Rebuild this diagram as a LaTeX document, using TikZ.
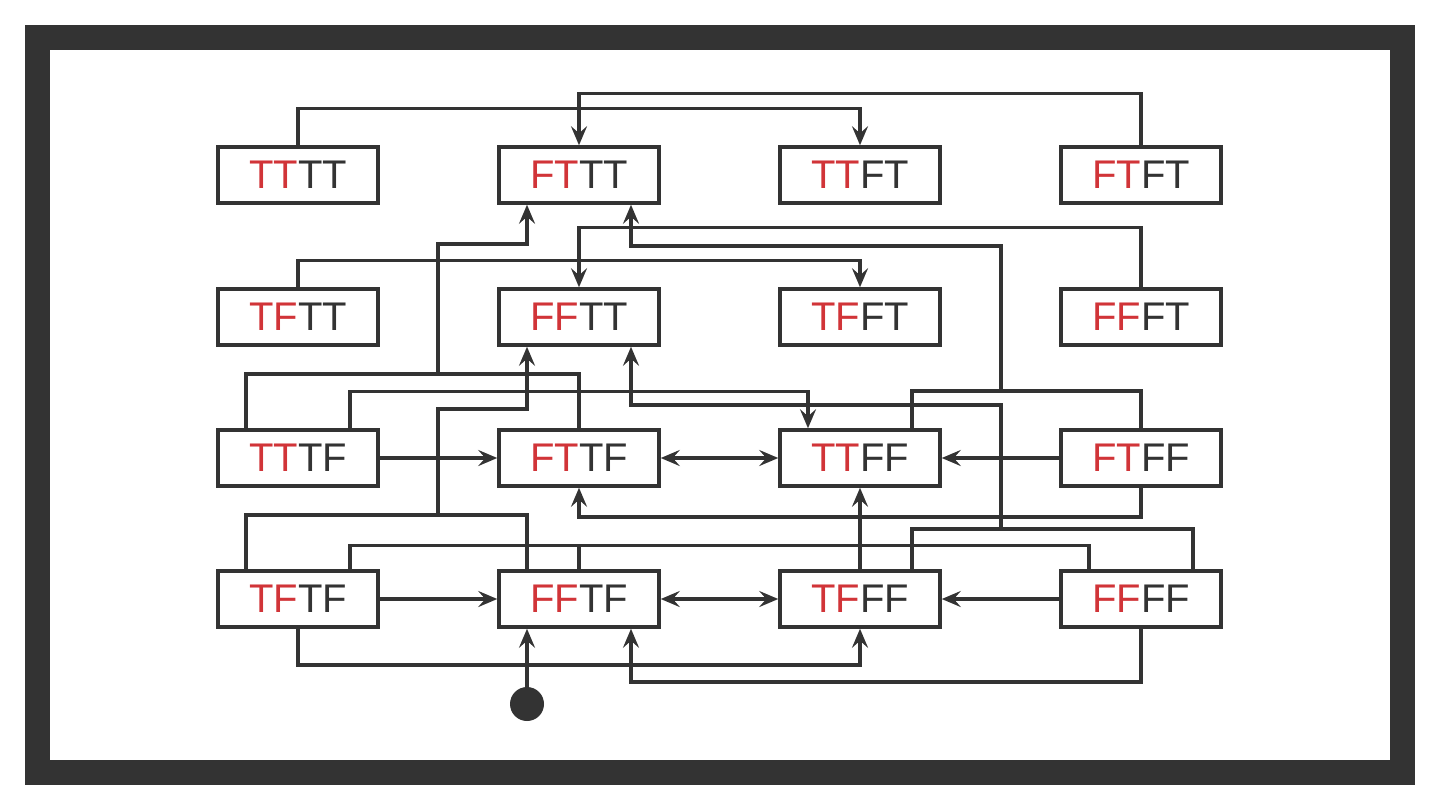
\documentclass[tikz,border=0pt]{standalone}
\usepackage{fontspec}
\setmainfont{Liberation Sans}
\usetikzlibrary{arrows.meta}
\definecolor{ink}{HTML}{333333}
\definecolor{hl}{HTML}{D13438}
\newcommand{\stlab}[2]{\textcolor{hl}{#1}\textcolor{ink}{#2}}
\begin{document}
\begin{tikzpicture}[x=0.5pt,y=-0.5pt,
  state/.style={draw=ink, line width=1.75pt, fill=white, minimum width=80pt, minimum height=28pt, inner sep=0pt, font=\fontsize{20}{24}\selectfont},
  wire/.style={draw=ink, line width=1.75pt},
  arr/.style={wire, -{Stealth[length=9.5pt,width=8pt,inset=3.5pt]}},
  barr/.style={wire, {Stealth[length=9.5pt,width=8pt,inset=3.5pt]}-{Stealth[length=9.5pt,width=8pt,inset=3.5pt]}},
  startdot/.style={circle, fill=ink, minimum size=17pt, inner sep=0pt}
]
\useasboundingbox (0,0) rectangle (1440,810);
\fill[ink] (25,25) rectangle (1415,785);
\fill[white] (50,50) rectangle (1390,760);

% nodes
\node[state] (TTTT) at (298,175) {\stlab{TT}{TT}};
\node[state] (FTTT) at (579,175) {\stlab{FT}{TT}};
\node[state] (TTFT) at (860,175) {\stlab{TT}{FT}};
\node[state] (FTFT) at (1141,175) {\stlab{FT}{FT}};
\node[state] (TFTT) at (298,317) {\stlab{TF}{TT}};
\node[state] (FFTT) at (579,317) {\stlab{FF}{TT}};
\node[state] (TFFT) at (860,317) {\stlab{TF}{FT}};
\node[state] (FFFT) at (1141,317) {\stlab{FF}{FT}};
\node[state] (TTTF) at (298,458) {\stlab{TT}{TF}};
\node[state] (FTTF) at (579,458) {\stlab{FT}{TF}};
\node[state] (TTFF) at (860,458) {\stlab{TT}{FF}};
\node[state] (FTFF) at (1141,458) {\stlab{FT}{FF}};
\node[state] (TFTF) at (298,599) {\stlab{TF}{TF}};
\node[state] (FFTF) at (579,599) {\stlab{FF}{TF}};
\node[state] (TFFF) at (860,599) {\stlab{TF}{FF}};
\node[state] (FFFF) at (1141,599) {\stlab{FF}{FF}};
\node[startdot] (start) at (527,704) {};

\coordinate (jA) at (438,374);
\coordinate (jB) at (1001,391);
\coordinate (jC) at (438,515);
\coordinate (jD) at (1001,529);

% top rows
\draw[arr] (TTTT.north) -- ++(0,-37) -| (TTFT.north);
\draw[arr] (FTFT.north) -- ++(0,-52) -| (FTTT.north);
\draw[arr] (TFTT.north) -- ++(0,-27) -| (TFFT.north);
\draw[arr] (FFFT.north) -- ++(0,-60) -| (FFTT.north);

% merges into FTTT
\draw[wire] ([xshift=-26pt]TTTF.north) |- (jA) -| (FTTF.north);
\draw[arr] (jA) -- (438,244) -| ([xshift=-26pt]FTTT.south);
\draw[wire] ([xshift=26pt]TTFF.north) |- (jB) -| (FTFF.north);
\draw[arr] (jB) -- (1001,246) -| ([xshift=26pt]FTTT.south);

% merges into FFTT
\draw[wire] ([xshift=-26pt]TFTF.north) |- (jC) -| ([xshift=-26pt]FFTF.north);
\draw[arr] (jC) -- (438,409) -| ([xshift=-26pt]FFTT.south);
\draw[wire] ([xshift=26pt]TFFF.north) |- (jD) -| ([xshift=26pt]FFFF.north);
\draw[arr] (jD) -- (1001,405) -| ([xshift=26pt]FFTT.south);

% row 3
\draw[arr] ([xshift=26pt]TTTF.north) -- ++(0,-37) -| ([xshift=-26pt]TTFF.north);
\draw[arr] (TTTF.east) -- (FTTF.west);
\draw[barr] (FTTF.east) -- (TTFF.west);
\draw[arr] (FTFF.west) -- (TTFF.east);
\draw[arr] (FTFF.south) -- ++(0,29) -| (FTTF.south);

% row 4
\draw[wire] ([xshift=26pt]TFTF.north) -- ++(0,-24) -| ([xshift=-26pt]FFFF.north);
\draw[wire] (FFTF.north) -- ++(0,-24);
\draw[arr] (TFFF.north) -- (TTFF.south);
\draw[arr] (TFTF.east) -- (FFTF.west);
\draw[barr] (FFTF.east) -- (TFFF.west);
\draw[arr] (FFFF.west) -- (TFFF.east);
\draw[arr] (TFTF.south) -- ++(0,36) -| (TFFF.south);
\draw[arr] (FFFF.south) -- ++(0,53) -| ([xshift=26pt]FFTF.south);
\draw[arr] (start) -- ([xshift=-26pt]FFTF.south);
\end{tikzpicture}
\end{document}
